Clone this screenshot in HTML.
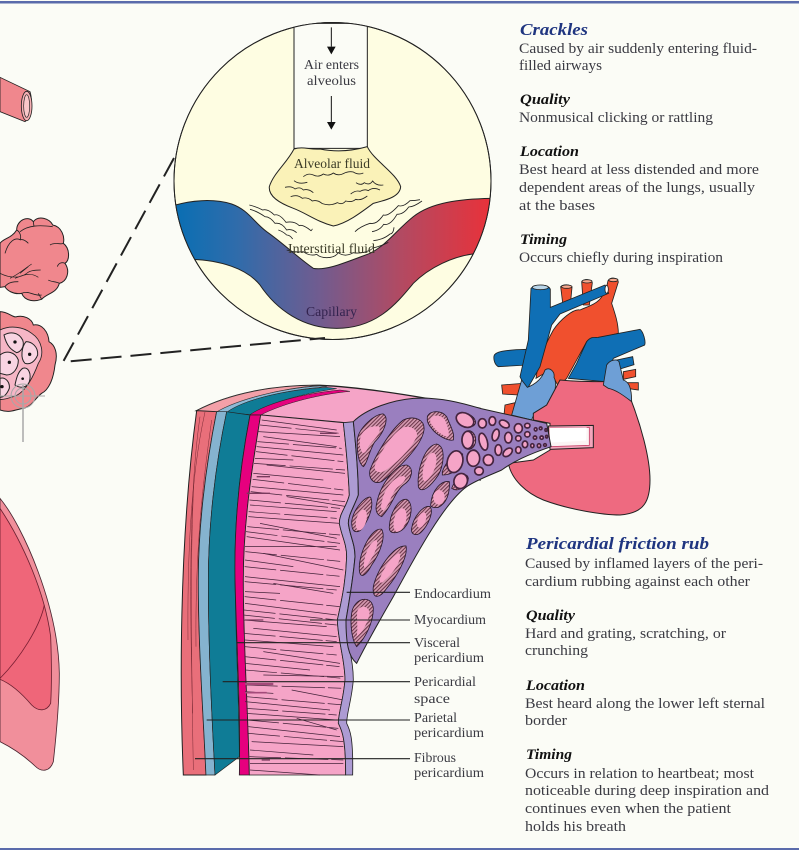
<!DOCTYPE html>
<html><head><meta charset="utf-8"><style>
html,body{margin:0;padding:0;background:#fbfcf6}
svg{display:block}
text{font-family:"Liberation Serif",serif;fill:#3a3a42}
.b{font-size:14.5px}
.h{font-size:15px;font-weight:bold;font-style:italic;fill:#111}
.t{font-size:17px;font-weight:bold;font-style:italic;fill:#1f3580}
.l{font-size:14px}
</style></head><body>
<svg width="799" height="850" viewBox="0 0 799 850" xmlns="http://www.w3.org/2000/svg">
<defs>
<linearGradient id="cap" x1="0" x2="1" y1="0" y2="0"><stop offset="0" stop-color="#066fb4"/><stop offset=".2" stop-color="#2f6cab"/><stop offset=".45" stop-color="#705c90"/><stop offset=".7" stop-color="#b24a62"/><stop offset="1" stop-color="#ee2f36"/></linearGradient>
<pattern id="hatch" width="8" height="8" patternUnits="userSpaceOnUse" patternTransform="rotate(-45)"><rect width="8" height="8" fill="#d49ab0"/><rect width="8" height="3" fill="#6a3348"/></pattern>
<clipPath id="cc"><circle cx="332.5" cy="181" r="158.5"/></clipPath>
</defs>
<rect width="799" height="850" fill="#fbfcf6"/>
<rect y="1" width="799" height="2.5" fill="#5a6bab"/>
<rect y="848" width="799" height="2" fill="#5a6bab"/>

<!-- magnified circle -->
<circle cx="332.5" cy="181" r="158.5" fill="#fefde2" stroke="#222" stroke-width="1"/>
<g clip-path="url(#cc)"><g transform="translate(170,0) scale(.33333)">
<path d="M0,620 C60,600 130,595 185,612 C235,630 250,665 290,695 C340,730 380,770 430,805 C470,812 520,790 600,760 C650,735 680,690 730,650 C780,610 860,595 990,595 L990,762 L908,762 C850,770 780,800 730,850 C680,910 620,985 500,985 C400,985 320,930 270,855 C230,805 150,780 60,778 L0,770Z" fill="url(#cap)" stroke="#222" stroke-width="3"/>
<path d="M372,70 L372,445 L592,445 L592,70Z" fill="#fbfcf6" stroke="#222" stroke-width="3"/>
<path d="M372,447 C400,438 420,450 450,447 C490,455 540,455 592,440 C610,480 680,520 692,560 C690,590 650,600 610,610 C570,640 530,670 490,678 C440,665 410,640 370,625 C330,610 295,590 298,560 C310,520 350,490 372,447Z" fill="#faf2b8" stroke="#222" stroke-width="3"/>
<g fill="none" stroke="#222" stroke-width="2.5">
<path d="M400,530 q15,-12 30,-5 q15,8 30,-3 q15,8 30,-3 q15,10 30,2 q15,-8 30,-5 q15,10 30,3"/>
<path d="M372,542 q15,12 40,5 M345,562 q20,-5 30,5 q15,-8 25,3 q15,-5 30,8"/>
<path d="M558,548 q15,10 25,0 q15,10 25,-5 q10,15 32,12 M542,582 q15,-12 28,-8 q15,-8 25,-2 q15,-12 35,-2"/>
<path d="M362,590 q20,-8 35,5 q15,-5 30,8 q15,-5 30,8 q25,8 45,-3 q15,8 25,-5 q20,5 30,-5 q15,5 35,-10"/>
<path d="M238,615 q20,5 40,15 q15,-5 35,15 q15,-5 35,22 q25,-5 40,10 q10,-5 35,15 q5,-5 3,-5"/>
<path d="M240,628 q20,5 45,22 q15,0 30,20 q20,-3 35,20 q15,-5 30,8"/>
<path d="M325,690 q15,5 25,15 q10,0 18,12"/>
<path d="M555,695 q15,-15 45,-25 q20,5 40,-25 q15,5 45,-28 q15,5 35,-15 q15,0 30,-3 M606,695 q25,-5 35,-22 q20,5 40,-30 q20,0 35,-22 q15,0 40,-18 M610,722 q30,-3 50,-20 q10,0 12,-20 M605,745 q25,-5 50,-18"/>
<path d="M350,750 q25,8 50,5 q20,15 40,8 q10,10 30,10 q25,0 35,-15 q20,15 45,0 q25,5 55,-10"/>
</g>
<path d="M484,82 L484,140 M484,288 L484,368" stroke="#111" stroke-width="3"/>
<path d="M471,140 L497,140 L484,163Z M471,366 L497,366 L484,389Z" fill="#111"/>
</g></g>
<circle cx="332.5" cy="181" r="158.5" fill="none" stroke="#222" stroke-width="1"/>
<text class="l" x="304" y="69" textLength="55" lengthAdjust="spacingAndGlyphs">Air enters</text>
<text class="l" x="307" y="85" textLength="49" lengthAdjust="spacingAndGlyphs">alveolus</text>
<text class="l" x="294" y="168" textLength="76" lengthAdjust="spacingAndGlyphs" style="fill:#3c3c28">Alveolar fluid</text>
<text class="l" x="288" y="253" textLength="87" lengthAdjust="spacingAndGlyphs" style="fill:#3c3c28">Interstitial fluid</text>
<text class="l" x="306" y="316" textLength="51" lengthAdjust="spacingAndGlyphs" style="fill:#33234f">Capillary</text>

<path d="M174,158 L63,362 L325,338" fill="none" stroke="#222" stroke-width="2" stroke-dasharray="21 9"/>

<!-- left: bronchiole and lobules -->
<g transform="translate(0,60) scale(.33333)" stroke="#222">
<path d="M0,52 L90,95 C98,120 95,170 75,185 L0,155Z" fill="#f0878d" stroke-width="2.5"/>
<ellipse cx="80" cy="138" rx="16" ry="44" fill="#f6b0b4" stroke-width="2.5"/>
<ellipse cx="80" cy="138" rx="9" ry="34" fill="#f9c7c9" stroke-width="2"/>
<path d="M0,550 C10,535 35,535 50,510 C50,480 85,465 100,485 C115,465 150,475 158,495 C185,500 195,530 190,550 C210,565 210,600 195,610 C212,635 200,665 178,670 C170,700 140,700 125,718 C105,725 75,725 65,700 C40,705 20,690 15,680 L0,682Z" fill="#f0878d" stroke-width="3"/>
<g fill="none" stroke-width="2.5"><path d="M50,510 C60,515 65,530 60,540 M60,540 C70,535 80,545 85,550 M60,515 C85,495 120,495 158,500 M100,485 L102,500 M150,555 C165,545 185,555 190,550 M15,580 C25,545 45,530 62,540 M195,610 C185,605 175,610 172,620 M178,670 C170,665 150,665 145,660 M65,700 C85,690 105,710 125,705 M15,680 C25,665 45,665 55,665 M125,718 L115,700"/>
<path d="M0,640 C30,655 60,655 80,640 C90,630 110,630 122,630 M30,655 C60,640 75,625 95,612 M45,655 C70,645 90,635 115,652 M60,640 L85,620" stroke-width="2"/></g>
<path d="M0,755 C25,755 40,775 50,770 C70,765 95,775 100,795 C125,790 145,815 147,845 C165,855 175,880 165,915 C160,960 145,990 125,1000 C105,1015 95,1040 70,1045 C40,1050 30,1060 0,1050Z" fill="#f0878d" stroke-width="3"/>
<path d="M0,810 C30,795 70,800 95,820 C125,840 135,880 115,910 C100,950 75,1000 40,1010 C25,1015 10,1020 0,1018Z" fill="#f6b6c6" stroke-width="2.5"/>
<g stroke-width="3" fill="#f8d4e2">
<path d="M12,825 C30,815 55,815 68,840 C75,860 62,875 50,878 C35,870 20,860 12,825Z"/>
<path d="M78,845 C95,845 115,860 113,885 C105,905 90,915 75,910 C60,895 65,860 78,845Z"/>
<path d="M0,885 C20,870 45,875 55,900 C55,925 40,945 20,945 L0,940Z"/>
<path d="M68,925 C85,920 95,940 88,965 C80,985 60,985 45,975 C50,950 55,935 68,925Z"/>
<path d="M0,955 C15,950 30,965 28,985 C20,1005 10,1012 0,1012Z"/>
</g>
<g fill="#111" stroke="none"><circle cx="45" cy="846" r="5"/><circle cx="89" cy="883" r="5"/><circle cx="28" cy="907" r="5"/><circle cx="68" cy="956" r="4"/><circle cx="6" cy="980" r="5"/></g>
</g>
<g fill="none" stroke="#a8a8a8" stroke-width="1"><path d="M23,385 V442" stroke-width="1.5"/><circle cx="23" cy="396" r="12"/><circle cx="23" cy="396" r="8"/><path d="M0,396 H45"/></g>

<g transform="translate(0,480) scale(.33333)">
<path d="M0,55 C70,140 175,380 178,580 C178,680 165,800 160,845 C150,875 125,878 105,858 C70,825 30,800 0,785Z" fill="#f18f9b" stroke="#4a2530" stroke-width="2.5"/>
<path d="M0,85 C70,190 135,340 152,470 C155,550 155,620 152,670 C140,695 115,695 95,675 C65,640 30,610 0,598Z" fill="#ef6679" stroke="#6a2030" stroke-width="2.5"/>
<path d="M0,595 C60,535 120,440 133,375" fill="none" stroke="#7a1f33" stroke-width="2.5"/>
</g>

<!-- heart -->
<g transform="translate(470,270) scale(.33333)" stroke="#222" stroke-width="2.5">
<path d="M95,345 L160,340 L145,375 L98,372Z M105,405 L135,398 L130,440 L102,435Z" fill="#f0502e"/>
<path d="M460,305 L497,298 L497,320 L460,328Z M470,338 L505,338 L505,360 L470,355Z" fill="#f0502e"/>
<path d="M272,50 C280,42 300,42 306,52 L300,115 L280,115Z M335,35 C345,25 362,28 367,38 L358,105 L340,105Z M414,32 C425,18 442,25 445,36 L425,100 C435,130 445,160 445,190 L350,215 L290,325 L265,350 L240,300 L198,325 C205,270 225,225 250,180 C270,150 310,115 330,120 C360,105 400,105 414,32Z" fill="#f0502e"/>
<path d="M72,258 C75,245 100,240 170,238 L172,285 L85,290 C75,285 70,270 72,258Z" fill="#0f6fb5"/>
<path d="M183,55 C195,42 235,42 241,58 L241,112 L405,45 L416,70 L270,132 L245,165 L210,290 L170,360 L150,320 L175,210Z" fill="#0f6fb5"/>
<ellipse cx="211" cy="52" rx="24" ry="7" fill="#b9d6ea"/><ellipse cx="410" cy="58" rx="5" ry="12" fill="#fff"/>
<ellipse cx="290" cy="50" rx="16" ry="5" fill="#f7a88e"/><ellipse cx="351" cy="34" rx="15" ry="5" fill="#f7a88e"/><ellipse cx="430" cy="30" rx="14" ry="5" fill="#f7a88e"/>
<path d="M440,270 L488,260 L492,284 L450,297Z" fill="#0f6fb5"/>
<path d="M350,215 C365,195 380,205 385,202 L510,178 C520,185 528,215 524,225 L430,265 L405,335 L295,325 L320,280Z" fill="#0f6fb5"/>
<path d="M125,435 L155,330 L172,352 C190,345 215,330 225,300 C240,290 255,305 252,322 C265,345 245,365 265,372 C250,390 235,410 222,412 C205,425 190,430 185,450Z" fill="#6e9fd6"/>
<path d="M270,330 C320,335 370,335 402,335 C430,360 470,375 485,395 C510,460 540,560 540,630 C540,690 525,730 450,735 C400,735 300,720 220,690 C170,670 125,630 115,580 L190,570 L240,540 L240,460 L190,450 L190,430 L230,405Z" fill="#ee6a80" stroke-width="3"/>
<path d="M400,345 L410,285 C420,270 440,265 447,275 L460,330 C475,335 485,350 485,395 C465,380 440,360 415,355Z" fill="#6e9fd6"/>
<path d="M235,468 L370,466 L370,533 L240,538Z" fill="#f3a6bc" stroke-width="3"/>
<path d="M238,474 L358,472 L358,526 L240,530Z" fill="#fbf4f4" stroke="#c8466c" stroke-width="2.5"/>
<path d="M238,474 L350,472 L348,512 L240,518Z" fill="#fff" stroke="none"/>
</g>

<!-- wall section -->
<g transform="translate(180,380) scale(.33333)">
<path d="M50,92 C150,40 280,15 420,16 C560,22 750,55 900,85 L900,300 L490,128 L242,105 L50,92Z" fill="#f5a4c7" stroke="#222" stroke-width="4"/>
<path d="M50,92 C150,40 280,15 420,16 C300,25 170,60 110,96Z" fill="#f3a0a8" stroke="#333" stroke-width="2"/>
<path d="M110,96 C170,60 300,25 420,18 L440,20 C310,30 190,60 140,97Z" fill="#8dbad6" stroke="#333" stroke-width="1.5"/>
<path d="M140,97 C190,60 310,30 440,22 L470,26 C370,40 260,70 210,104Z" fill="#0f7c96" stroke="#222" stroke-width="1.5"/>
<path d="M210,104 C260,70 370,40 480,30 L510,34 C400,45 300,75 242,105Z" fill="#e6007e" stroke="#222" stroke-width="1.5"/>
<path d="M50,92 L110,95 C75,270 55,450 55,600 C55,800 70,1000 78,1185 L10,1185 C0,950 -5,500 50,92Z" fill="#e96f7a" stroke="#222" stroke-width="3"/>
<g stroke="#7a2a35" stroke-width="1.5" fill="none"><path d="M75,96 C30,300 22,550 24,780 M60,110 C25,350 30,700 38,1000 M95,120 C70,300 45,500 48,800 M42,300 C32,500 32,700 40,1170"/></g>
<path d="M110,95 L140,95 C105,260 85,440 85,600 C85,800 95,1000 105,1185 L78,1185 C70,1000 55,800 55,600 C55,450 75,270 110,95Z" fill="#85b3cf" stroke="#222" stroke-width="2"/>
<path d="M140,95 L210,105 C180,260 162,430 165,600 C168,800 178,1000 178,1130 L105,1185 C95,1000 85,800 85,600 C85,440 105,260 140,95Z" fill="#0f7c96" stroke="#222" stroke-width="2"/>
<path d="M210,105 L242,105 C215,270 190,430 190,600 C190,800 205,1000 208,1185 L178,1185 C182,1000 170,800 165,600 C162,430 180,260 210,105Z" fill="#e6007e" stroke="#222" stroke-width="2.5"/>
<path d="M242,105 L490,128 C498,200 505,280 508,345 C500,380 478,400 478,430 C485,470 500,490 500,530 C498,590 490,640 472,720 C475,790 495,840 495,900 C490,960 475,1000 475,1030 C485,1050 497,1070 497,1185 L208,1185 C205,1000 190,800 190,600 C190,430 215,270 242,105Z" fill="#f5a4c7" stroke="#222" stroke-width="2.5"/>
<g stroke="#44233a" stroke-width="2.2" fill="none">
<path d="M245,120 L470,150 M235,155 L480,170 M250,170 L470,200 M230,200 L490,225 M225,235 L340,240 M260,255 L495,280 M220,280 L430,300 M215,320 L490,345 M320,350 L500,380 M210,375 L470,395 M205,410 L480,430 M240,430 L470,475 M200,470 L480,510 M195,500 L470,500 M250,520 L490,570 M195,540 L340,560 M195,590 L480,620 M280,610 L460,640 M195,635 L300,640 M195,670 L470,705 M190,720 L440,740 M220,745 L470,770 M195,780 L460,800 M250,815 L480,850 M195,850 L390,870 M250,885 L490,890 M195,935 L280,940 M335,930 L490,960 M195,965 L450,990 M200,1000 L470,1020 M350,1015 L470,1050 M205,1040 L480,1070 M215,1085 L490,1100 M210,1110 L400,1125 M210,1150 L490,1150 M210,1170 L420,1185"/>
<path stroke-dasharray="95 12 130 9 40 14 60 20" d="M240,135 L480,160 M232,185 L485,205 M228,215 L490,245 M222,250 L495,270 M218,298 L490,330 M212,335 L495,365 M208,360 L480,385 M206,395 L470,415 M202,440 L480,465 M198,455 L480,490 M196,515 L490,545 M194,560 L490,590 M194,605 L470,630 M194,650 L480,680 M192,690 L470,720 M190,705 L470,735 M192,760 L470,785 M194,800 L470,825 M194,830 L480,860 M196,870 L490,895 M198,915 L490,925 M198,950 L490,975 M200,985 L470,1005 M202,1020 L475,1045 M205,1060 L490,1085 M208,1130 L490,1140"/>
<path d="M195,912 H280" stroke-width="7" stroke="#a44a7a"/><path d="M195,938 H260" stroke-width="5" stroke="#a44a7a"/>
<path d="M420,160 H470 M230,290 H270 M200,340 H270 M195,720 H250 M245,1140 H270" stroke-width="4" stroke="#7a3a5e"/>
</g>
<path d="M490,128 L520,125 C530,220 535,300 535,345 C520,385 505,405 505,430 C510,470 525,490 525,530 C520,590 510,650 498,720 C498,790 520,830 520,900 C515,960 500,1000 500,1030 C510,1050 520,1070 518,1185 L497,1185 C497,1070 485,1050 475,1030 C475,1000 490,960 495,900 C495,840 475,790 472,720 C490,640 498,590 500,530 C500,490 485,470 478,430 C478,400 500,380 508,345 C505,280 498,200 490,128Z" fill="#ad9bd3" stroke="#222" stroke-width="2.5"/>
<path d="M520,125 C560,85 640,60 700,55 C780,50 850,70 900,85 L1100,130 L1113,200 C1040,225 1000,245 965,270 C920,290 890,300 860,320 C790,370 700,540 640,650 C600,720 570,770 530,850 C505,830 498,790 498,720 C510,650 520,590 525,530 C525,490 510,470 505,430 C505,405 520,385 535,345 C535,300 530,220 520,125Z" fill="#9a7fbf" stroke="#222" stroke-width="3"/>
<!-- large holes, coordinates offset from the 340,390 crop -->
<g transform="translate(480,30)" stroke="#2a1a2a" stroke-width="2.5">
<path d="M52,150 C55,115 105,70 130,72 C150,85 130,130 105,155 C90,175 80,225 70,230 C55,220 50,180 52,150Z" fill="url(#hatch)"/>
<path d="M62,140 C70,115 100,105 118,110 C125,130 100,150 85,170 C80,185 70,195 65,185 C58,170 58,155 62,140Z" fill="#f5a4c7" stroke="none"/>
<path d="M90,240 C105,200 150,120 190,90 C225,75 255,90 252,120 C245,170 170,240 125,275 C100,285 85,265 90,240Z" fill="url(#hatch)"/>
<path d="M105,225 C120,190 155,130 190,112 C220,105 235,125 230,140 C215,175 165,225 130,245 C110,250 100,240 105,225Z" fill="#f5a4c7" stroke="none"/>
<path d="M262,80 C270,60 305,60 320,80 C330,105 345,130 340,150 C320,155 285,130 275,115 C265,105 260,95 262,80Z" fill="url(#hatch)"/>
<path d="M272,85 C280,72 305,75 315,90 C322,105 330,130 325,140 C310,140 285,120 280,110 C272,100 268,95 272,85Z" fill="#f5a4c7" stroke="none"/>
<path d="M235,290 C230,240 255,165 290,162 C320,170 310,230 295,255 C275,285 245,315 235,290Z" fill="url(#hatch)"/>
<path d="M248,265 C245,235 260,190 280,188 C295,195 290,225 280,245 C270,265 252,285 248,265Z" fill="#f5a4c7" stroke="none"/>
<path d="M110,340 C120,290 160,225 200,225 C225,235 215,270 190,285 C165,305 155,350 125,380 C110,375 105,360 110,340Z" fill="url(#hatch)"/>
<path d="M125,340 C130,300 160,260 190,258 C205,262 190,280 175,290 C155,305 150,345 130,362 C120,355 122,345 125,340Z" fill="#f5a4c7" stroke="none"/>
<path d="M272,345 C275,300 305,270 328,275 C330,310 320,340 295,352 C280,355 272,350 272,345Z" fill="url(#hatch)"/>
<ellipse cx="297" cy="322" rx="17" ry="22" fill="#f5a4c7" stroke="none"/>
</g>
<g stroke="#2a1a2a" stroke-width="2.5">
<path d="M515,425 C520,385 560,345 572,352 C582,375 570,410 550,440 C540,458 525,458 520,450 C515,445 515,435 515,425Z" fill="url(#hatch)"/><ellipse cx="544" cy="420" rx="15" ry="32" fill="#f5a4c7" stroke="none" transform="rotate(15 544 420)"/>
<path d="M628,440 C630,400 655,355 680,358 C702,370 695,420 672,445 C655,462 625,465 628,440Z" fill="url(#hatch)"/><ellipse cx="660" cy="420" rx="18" ry="36" fill="#f5a4c7" stroke="none" transform="rotate(15 660 420)"/>
<path d="M695,445 C700,410 730,375 750,380 C762,395 745,435 725,455 C710,470 692,465 695,445Z" fill="url(#hatch)"/><ellipse cx="725" cy="420" rx="12" ry="24" fill="#f5a4c7" stroke="none" transform="rotate(20 725 420)"/>
<path d="M538,570 C535,520 575,440 605,448 C618,470 600,520 575,555 C560,585 540,600 538,570Z" fill="url(#hatch)"/><path d="M552,550 C555,515 575,480 590,480 C597,495 580,530 565,550 C558,565 550,570 552,550Z" fill="#f5a4c7" stroke="none"/>
<path d="M580,620 C590,570 640,495 678,498 C685,530 650,590 620,625 C605,650 575,665 580,620Z" fill="url(#hatch)"/><path d="M600,595 C610,565 640,520 660,520 C665,545 635,585 615,600 C605,612 595,610 600,595Z" fill="#f5a4c7" stroke="none"/>
<path d="M515,700 C520,655 575,640 580,685 C580,730 555,775 530,800 C515,780 510,730 515,700Z" fill="url(#hatch)"/><path d="M533,690 C545,672 572,680 568,705 C560,735 545,760 530,770 C535,740 528,710 533,690Z" fill="#f5a4c7" stroke="none"/>
<path d="M787,275 C800,240 830,210 848,222 C850,255 825,285 787,285Z" fill="url(#hatch)"/><path d="M815,265 C820,245 835,230 842,235 C840,255 830,270 815,265Z" fill="#f5a4c7" stroke="none"/>
<path d="M815,325 C825,295 860,270 865,295 C865,315 835,340 815,325Z" fill="url(#hatch)"/><path d="M830,320 C835,305 850,290 857,297 C855,312 845,325 830,320Z" fill="#f5a4c7" stroke="none"/>
<ellipse cx="860" cy="120" rx="28" ry="18" fill="url(#hatch)" transform="rotate(25 860 120)"/><ellipse cx="860" cy="121" rx="17" ry="10" fill="#f5a4c7" stroke="none" transform="rotate(25 860 121)"/>
<ellipse cx="866" cy="180" rx="21" ry="28" fill="url(#hatch)"/><ellipse cx="866" cy="181" rx="11" ry="17" fill="#f5a4c7" stroke="none"/>
<ellipse cx="881" cy="232" rx="16" ry="23" fill="url(#hatch)"/><ellipse cx="881" cy="232" rx="9" ry="13" fill="#f5a4c7" stroke="none"/>
</g>
</g>
<!-- small vessels toward the heart -->
<g transform="translate(450,400) scale(.33333)" stroke="#45243f" stroke-width="5" fill="#f5a4c7">
<ellipse cx="45" cy="60" rx="28" ry="20" transform="rotate(30 45 60)"/><ellipse cx="97" cy="70" rx="12" ry="14"/><ellipse cx="127" cy="63" rx="10" ry="13"/><ellipse cx="163" cy="72" rx="16" ry="10" transform="rotate(30 163 72)"/><ellipse cx="205" cy="85" rx="12" ry="14"/><ellipse cx="232" cy="77" rx="8" ry="7"/><ellipse cx="257" cy="88" rx="4" ry="5"/><ellipse cx="272" cy="85" rx="4" ry="4"/><ellipse cx="288" cy="90" rx="3" ry="4"/>
<ellipse cx="53" cy="120" rx="17" ry="26"/><ellipse cx="100" cy="125" rx="12" ry="26" transform="rotate(-15 100 125)"/><ellipse cx="137" cy="105" rx="10" ry="18" transform="rotate(15 137 105)"/><ellipse cx="175" cy="113" rx="11" ry="16"/><ellipse cx="205" cy="115" rx="8" ry="8"/><ellipse cx="232" cy="103" rx="8" ry="8"/><ellipse cx="255" cy="113" rx="5" ry="5"/><ellipse cx="275" cy="113" rx="5" ry="5"/><ellipse cx="290" cy="110" rx="3" ry="4"/>
<ellipse cx="145" cy="150" rx="10" ry="16"/><ellipse cx="173" cy="157" rx="16" ry="10" transform="rotate(-40 173 157)"/><ellipse cx="205" cy="150" rx="8" ry="10"/><ellipse cx="225" cy="133" rx="8" ry="10"/><ellipse cx="247" cy="137" rx="5" ry="6"/><ellipse cx="267" cy="137" rx="5" ry="6"/><ellipse cx="285" cy="135" rx="4" ry="4"/>
<ellipse cx="70" cy="175" rx="19" ry="24"/><ellipse cx="115" cy="180" rx="15" ry="16"/><ellipse cx="87" cy="213" rx="13" ry="12"/><ellipse cx="32" cy="243" rx="20" ry="23" transform="rotate(20 32 243)"/><ellipse cx="15" cy="185" rx="23" ry="33" transform="rotate(15 15 185)"/>
</g>
<!-- leaders -->
<g transform="translate(180,380) scale(.33333)" stroke="#222" stroke-width="3.2">
<path d="M500,637 H690 M390,720 H690 M170,788 H690 M128,905 H690 M80,1020 H690 M45,1136 H690"/>
</g>

<g>
<text class="l" x="414" y="598" textLength="77" lengthAdjust="spacingAndGlyphs">Endocardium</text>
<text class="l" x="414" y="624" textLength="72" lengthAdjust="spacingAndGlyphs">Myocardium</text>
<text class="l" x="414" y="647" textLength="46" lengthAdjust="spacingAndGlyphs">Visceral</text>
<text class="l" x="414" y="662" textLength="70" lengthAdjust="spacingAndGlyphs">pericardium</text>
<text class="l" x="414" y="686" textLength="62" lengthAdjust="spacingAndGlyphs">Pericardial</text>
<text class="l" x="414" y="703" textLength="36" lengthAdjust="spacingAndGlyphs">space</text>
<text class="l" x="414" y="722" textLength="43" lengthAdjust="spacingAndGlyphs">Parietal</text>
<text class="l" x="414" y="737" textLength="70" lengthAdjust="spacingAndGlyphs">pericardium</text>
<text class="l" x="414" y="762" textLength="42" lengthAdjust="spacingAndGlyphs">Fibrous</text>
<text class="l" x="414" y="777" textLength="70" lengthAdjust="spacingAndGlyphs">pericardium</text>

<text class="t" x="520" y="35" textLength="68" lengthAdjust="spacingAndGlyphs">Crackles</text>
<text class="b" x="519" y="53" textLength="238" lengthAdjust="spacingAndGlyphs">Caused by air suddenly entering fluid-</text>
<text class="b" x="519" y="70" textLength="83" lengthAdjust="spacingAndGlyphs">filled airways</text>
<text class="h" x="520" y="104" textLength="50" lengthAdjust="spacingAndGlyphs">Quality</text>
<text class="b" x="519" y="122" textLength="194" lengthAdjust="spacingAndGlyphs">Nonmusical clicking or rattling</text>
<text class="h" x="520" y="156" textLength="59" lengthAdjust="spacingAndGlyphs">Location</text>
<text class="b" x="519" y="174" textLength="240" lengthAdjust="spacingAndGlyphs">Best heard at less distended and more</text>
<text class="b" x="519" y="192" textLength="236" lengthAdjust="spacingAndGlyphs">dependent areas of the lungs, usually</text>
<text class="b" x="519" y="210" textLength="76" lengthAdjust="spacingAndGlyphs">at the bases</text>
<text class="h" x="520" y="244" textLength="47" lengthAdjust="spacingAndGlyphs">Timing</text>
<text class="b" x="519" y="262" textLength="204" lengthAdjust="spacingAndGlyphs">Occurs chiefly during inspiration</text>

<text class="t" x="526" y="549" textLength="183" lengthAdjust="spacingAndGlyphs">Pericardial friction rub</text>
<text class="b" x="525" y="568" textLength="238" lengthAdjust="spacingAndGlyphs">Caused by inflamed layers of the peri-</text>
<text class="b" x="525" y="586" textLength="225" lengthAdjust="spacingAndGlyphs">cardium rubbing against each other</text>
<text class="h" x="526" y="620" textLength="49" lengthAdjust="spacingAndGlyphs">Quality</text>
<text class="b" x="525" y="638" textLength="201" lengthAdjust="spacingAndGlyphs">Hard and grating, scratching, or</text>
<text class="b" x="525" y="655" textLength="63" lengthAdjust="spacingAndGlyphs">crunching</text>
<text class="h" x="526" y="690" textLength="59" lengthAdjust="spacingAndGlyphs">Location</text>
<text class="b" x="525" y="708" textLength="240" lengthAdjust="spacingAndGlyphs">Best heard along the lower left sternal</text>
<text class="b" x="525" y="725" textLength="42" lengthAdjust="spacingAndGlyphs">border</text>
<text class="h" x="526" y="759" textLength="46" lengthAdjust="spacingAndGlyphs">Timing</text>
<text class="b" x="525" y="778" textLength="229" lengthAdjust="spacingAndGlyphs">Occurs in relation to heartbeat; most</text>
<text class="b" x="525" y="795" textLength="244" lengthAdjust="spacingAndGlyphs">noticeable during deep inspiration and</text>
<text class="b" x="525" y="813" textLength="206" lengthAdjust="spacingAndGlyphs">continues even when the patient</text>
<text class="b" x="525" y="831" textLength="101" lengthAdjust="spacingAndGlyphs">holds his breath</text>
</g>
</svg>
</body></html>
